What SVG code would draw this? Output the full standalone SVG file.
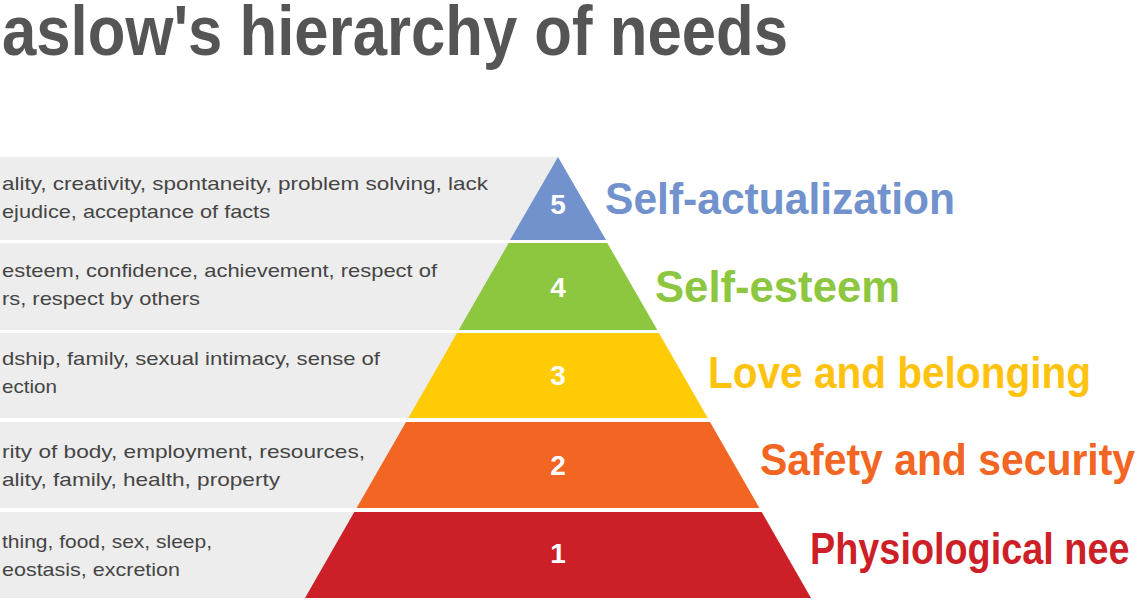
<svg xmlns="http://www.w3.org/2000/svg" width="1140" height="600" viewBox="0 0 1140 600">
<style>
.row{fill:#ededed}
.desc{font-family:'Liberation Sans',Arial,sans-serif;font-size:19px;fill:#454545}
.num{font-family:'Liberation Sans',Arial,sans-serif;font-size:28px;font-weight:bold;fill:#ffffff;text-anchor:middle}
.lbl{font-family:'Liberation Sans',Arial,sans-serif;font-size:44px;font-weight:bold}
.title{font-family:'Liberation Sans',Arial,sans-serif;font-size:70px;font-weight:bold;fill:#555555}
</style>
<rect width="1140" height="600" fill="#ffffff"/>
<text class="title" x="2" y="55" textLength="786" lengthAdjust="spacingAndGlyphs">aslow's hierarchy of needs</text>
<g id="tier5">
<rect class="row" x="0" y="157" width="558" height="83"/>
<polygon points="558,157 606,240 510,240" fill="#7192cc"/>
<text class="num" x="558" y="214">5</text>
<text class="desc" x="2" y="190" textLength="486" lengthAdjust="spacingAndGlyphs">ality, creativity, spontaneity, problem solving, lack</text>
<text class="desc" x="2" y="218" textLength="268" lengthAdjust="spacingAndGlyphs">ejudice, acceptance of facts</text>
<text class="lbl" x="605" y="214" fill="#7192cc" textLength="350" lengthAdjust="spacingAndGlyphs">Self-actualization</text>
</g>
<g id="tier4">
<rect class="row" x="0" y="243" width="558" height="87"/>
<polygon points="508.7,243 607.3,243 657.3,330 458.7,330" fill="#8dc63f"/>
<text class="num" x="558" y="297">4</text>
<text class="desc" x="2" y="277" textLength="435" lengthAdjust="spacingAndGlyphs">esteem, confidence, achievement, respect of</text>
<text class="desc" x="2" y="305" textLength="198" lengthAdjust="spacingAndGlyphs">rs, respect by others</text>
<text class="lbl" x="655" y="302" fill="#8dc63f" textLength="245" lengthAdjust="spacingAndGlyphs">Self-esteem</text>
</g>
<g id="tier3">
<rect class="row" x="0" y="333" width="558" height="85"/>
<polygon points="457,333 659,333 707.7,418 408.3,418" fill="#ffcb05"/>
<text class="num" x="558" y="385">3</text>
<text class="desc" x="2" y="365" textLength="378" lengthAdjust="spacingAndGlyphs">dship, family, sexual intimacy, sense of</text>
<text class="desc" x="2" y="393" textLength="55" lengthAdjust="spacingAndGlyphs">ection</text>
<text class="lbl" x="708" y="388" fill="#ffc20e" textLength="383" lengthAdjust="spacingAndGlyphs">Love and belonging</text>
</g>
<g id="tier2">
<rect class="row" x="0" y="422" width="558" height="86"/>
<polygon points="406,422 710,422 759.4,508 356.6,508" fill="#f26522"/>
<text class="num" x="558" y="475">2</text>
<text class="desc" x="2" y="458" textLength="363" lengthAdjust="spacingAndGlyphs">rity of body, employment, resources,</text>
<text class="desc" x="2" y="486" textLength="278" lengthAdjust="spacingAndGlyphs">ality, family, health, property</text>
<text class="lbl" transform="translate(760,475) scale(0.93,1)" x="0" y="0" fill="#f26522">Safety and security</text>
</g>
<g id="tier1">
<rect class="row" x="0" y="512" width="558" height="86"/>
<polygon points="354.3,512 761.7,512 811,598 305,598" fill="#cd1f28"/>
<text class="num" x="558" y="563">1</text>
<text class="desc" x="2" y="548" textLength="210" lengthAdjust="spacingAndGlyphs">thing, food, sex, sleep,</text>
<text class="desc" x="2" y="576" textLength="178" lengthAdjust="spacingAndGlyphs">eostasis, excretion</text>
<text class="lbl" transform="translate(810,564) scale(0.86,1)" x="0" y="0" fill="#cd1f28">Physiological nee</text>
</g>
<g id="connectors"/>
</svg>
